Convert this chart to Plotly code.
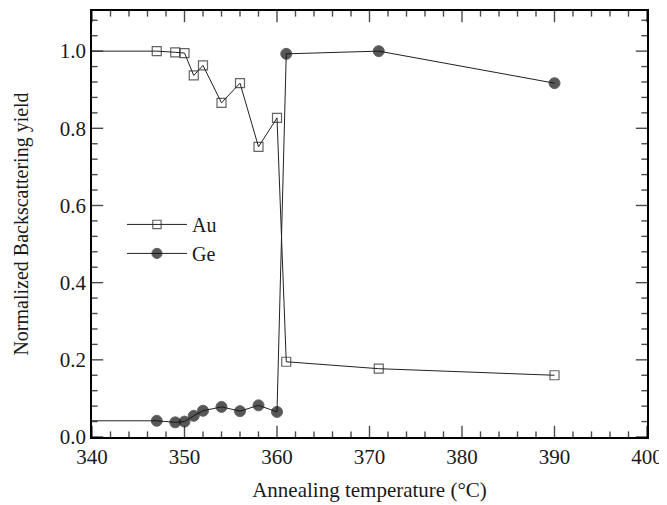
import plotly.graph_objects as go

# Data
temps = [340, 347, 349, 350, 351, 352, 354, 356, 358, 360, 361, 371, 390]
au_yield = [1.0, 1.0, 0.997, 0.995, 0.937, 0.963, 0.866, 0.917, 0.752, 0.827, 0.195, 0.177, 0.160]
ge_yield = [0.042, 0.042, 0.038, 0.040, 0.055, 0.068, 0.078, 0.067, 0.082, 0.065, 0.993, 1.0, 0.917]

x_ticks = [340, 350, 360, 370, 380, 390, 400]
y_ticks = [0.0, 0.2, 0.4, 0.6, 0.8, 1.0]
x_minor_step = 2
y_minor_step = 0.04

FONT = "Liberation Serif, Times New Roman, serif"
TXT = "#1a1a1a"
X_RANGE = [x_ticks[0], x_ticks[-1]]
Y_RANGE = [0, 1.104]

W, H = 659, 497
M = dict(l=84, r=20, t=3, b=68)

sq_sizes = [0] + [9] * (len(temps) - 1)
ci_sizes = [0] + [11] * (len(temps) - 1)

fig = go.Figure()

# Inward tick marks: line-shaped markers centred on the frame, the outer half clipped away
xt_x, xt_y, xt_s = [], [], []
n_xminor = int(round((X_RANGE[1] - X_RANGE[0]) / x_minor_step))
for i in range(n_xminor + 1):
    xv = X_RANGE[0] + i * x_minor_step
    s = 16 if any(abs(xv - t) < 1e-9 for t in x_ticks) else 8
    for yv in Y_RANGE:
        xt_x.append(xv); xt_y.append(yv); xt_s.append(s)
yt_x, yt_y, yt_s = [], [], []
n_yminor = int((Y_RANGE[1] - Y_RANGE[0]) / y_minor_step + 1e-9)
for i in range(n_yminor + 1):
    yv = Y_RANGE[0] + i * y_minor_step
    s = 16 if any(abs(yv - t) < 1e-9 for t in y_ticks) else 8
    for xv in X_RANGE:
        yt_x.append(xv); yt_y.append(yv); yt_s.append(s)

fig.add_trace(go.Scatter(x=xt_x, y=xt_y, mode="markers", cliponaxis=True,
                         marker=dict(symbol="line-ns", size=xt_s, color="black",
                                     line=dict(color="black", width=1.4)),
                         showlegend=False, hoverinfo="skip"))
fig.add_trace(go.Scatter(x=yt_x, y=yt_y, mode="markers", cliponaxis=True,
                         marker=dict(symbol="line-ew", size=yt_s, color="black",
                                     line=dict(color="black", width=1.4)),
                         showlegend=False, hoverinfo="skip"))

fig.add_trace(go.Scatter(
    x=temps, y=au_yield, name="Au", mode="lines+markers",
    line=dict(color="#222222", width=1),
    marker=dict(symbol="square-open", size=sq_sizes, color="#222222", line=dict(width=1.2, color="#222222")),
))
fig.add_trace(go.Scatter(
    x=temps, y=ge_yield, name="Ge", mode="lines+markers",
    line=dict(color="#222222", width=1),
    marker=dict(symbol="circle", size=ci_sizes, color="#111111"),
))

axis_common = dict(
    showline=True, linecolor="black", linewidth=1.5, mirror=True,
    ticks="", showgrid=False, zeroline=False, automargin=False,
    tickfont=dict(family=FONT, size=21, color=TXT),
)

fig.update_layout(
    xaxis=dict(
        range=X_RANGE, tickmode="array", tickvals=x_ticks,
        title=dict(text="Annealing temperature (°C)", font=dict(family=FONT, size=21, color=TXT), standoff=14),
        **axis_common,
    ),
    yaxis=dict(
        range=Y_RANGE, tickmode="array", tickvals=y_ticks, ticktext=[f"{v:.1f}" for v in y_ticks],
        title=dict(text="Normalized Backscattering yield", font=dict(family=FONT, size=20, color=TXT), standoff=26),
        **axis_common,
    ),
    template="none",
    width=W, height=H,
    margin=M,
    paper_bgcolor="white", plot_bgcolor="white",
    showlegend=True,
    legend=dict(
        x=0.054, y=0.465, xanchor="left", yanchor="middle",
        bgcolor="rgba(0,0,0,0)", itemwidth=60,
        font=dict(family=FONT, size=20, color=TXT),
        tracegroupgap=0,
    ),
)

fig.write_html("out.html")
